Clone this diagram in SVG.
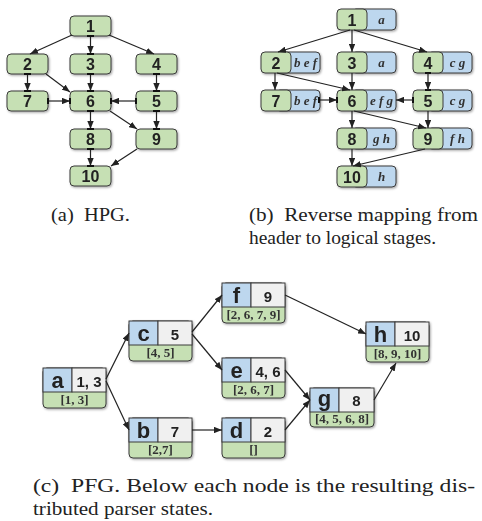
<svg xmlns="http://www.w3.org/2000/svg" width="482" height="521" viewBox="0 0 482 521">
<style>
.g{fill:#c6e0b4;stroke:#3a3a3a;stroke-width:1}
.b{fill:#bdd7ee;stroke:#3a3a3a;stroke-width:1}
.w{fill:#f0f0f0;stroke:#3a3a3a;stroke-width:1}
.num{font-family:"Liberation Sans",Arial,sans-serif;font-weight:bold;font-size:16px;fill:#222;text-anchor:middle}
.lab{font-family:"Liberation Serif","Times New Roman",serif;font-style:italic;font-weight:bold;font-size:13px;fill:#333;text-anchor:middle}
.let{font-family:"Liberation Sans",Arial,sans-serif;font-weight:bold;font-size:22px;fill:#222;text-anchor:middle}
.val{font-family:"Liberation Sans",Arial,sans-serif;font-weight:bold;font-size:15px;fill:#222;text-anchor:middle}
.st{font-family:"Liberation Serif","Times New Roman",serif;font-weight:bold;font-size:13px;fill:#333;text-anchor:middle}
.cap{font-family:"Liberation Serif","Times New Roman",serif;font-size:19px;fill:#222}
.e{fill:none;stroke:#222;stroke-width:1.2;marker-end:url(#ah)}
.t{stroke:#111;stroke-width:2}
</style>
<defs>
<marker id="ah" viewBox="0 0 10 8" refX="10" refY="4" markerWidth="8" markerHeight="6.4" markerUnits="userSpaceOnUse" orient="auto"><path d="M0,0 L10,4 L0,8 z" fill="#222"/></marker>
<filter id="sh" x="-10%" y="-10%" width="130%" height="140%"><feDropShadow dx="1" dy="1.2" stdDeviation="0.8" flood-color="#000" flood-opacity="0.35"/></filter>
</defs>

<!-- Panel (a) -->
<g id="a-nodes" filter="url(#sh)">
<g id="a1"><rect class="g" x="70" y="16" width="41" height="20" rx="4"/><text class="num" x="90.5" y="32">1</text></g>
<g id="a2"><rect class="g" x="7" y="54" width="41" height="20" rx="4"/><text class="num" x="27.5" y="70">2</text></g>
<g id="a3"><rect class="g" x="70" y="54" width="41" height="20" rx="4"/><text class="num" x="90.5" y="70">3</text></g>
<g id="a4"><rect class="g" x="136" y="54" width="41" height="20" rx="4"/><text class="num" x="156.5" y="70">4</text></g>
<g id="a7"><rect class="g" x="7" y="91" width="41" height="20" rx="4"/><text class="num" x="27.5" y="107">7</text></g>
<g id="a6"><rect class="g" x="70" y="91" width="41" height="20" rx="4"/><text class="num" x="90.5" y="107">6</text></g>
<g id="a5"><rect class="g" x="136" y="91" width="41" height="20" rx="4"/><text class="num" x="156.5" y="107">5</text></g>
<g id="a8"><rect class="g" x="70" y="129" width="41" height="20" rx="4"/><text class="num" x="90.5" y="145">8</text></g>
<g id="a9"><rect class="g" x="136" y="129" width="41" height="20" rx="4"/><text class="num" x="156.5" y="145">9</text></g>
<g id="a10"><rect class="g" x="70" y="166" width="41" height="20" rx="4"/><text class="num" x="90.5" y="182">10</text></g>
</g>

<!-- Panel (b) -->
<g id="b-nodes" filter="url(#sh)">
<g id="b1"><rect class="b" x="352" y="9" width="44" height="21" rx="4"/><rect class="g" x="337" y="9" width="30" height="21" rx="4"/><text class="num" x="352" y="25.5">1</text><text class="lab" x="381.5" y="24">a</text></g>
<g id="b2"><rect class="b" x="276" y="52" width="44" height="21" rx="4"/><rect class="g" x="261" y="52" width="30" height="21" rx="4"/><text class="num" x="276" y="68.5">2</text><text class="lab" x="305.5" y="67">b e f</text></g>
<g id="b3"><rect class="b" x="352" y="52" width="44" height="21" rx="4"/><rect class="g" x="337" y="52" width="30" height="21" rx="4"/><text class="num" x="352" y="68.5">3</text><text class="lab" x="381.5" y="67">a</text></g>
<g id="b4"><rect class="b" x="428" y="52" width="44" height="21" rx="4"/><rect class="g" x="413" y="52" width="30" height="21" rx="4"/><text class="num" x="428" y="68.5">4</text><text class="lab" x="457.5" y="67">c g</text></g>
<g id="b7"><rect class="b" x="276" y="90" width="44" height="21" rx="4"/><rect class="g" x="261" y="90" width="30" height="21" rx="4"/><text class="num" x="276" y="106.5">7</text><text class="lab" x="305.5" y="105">b e f</text></g>
<g id="b6"><rect class="b" x="352" y="90" width="44" height="21" rx="4"/><rect class="g" x="337" y="90" width="30" height="21" rx="4"/><text class="num" x="352" y="106.5">6</text><text class="lab" x="381.5" y="105">e f g</text></g>
<g id="b5"><rect class="b" x="428" y="90" width="44" height="21" rx="4"/><rect class="g" x="413" y="90" width="30" height="21" rx="4"/><text class="num" x="428" y="106.5">5</text><text class="lab" x="457.5" y="105">c g</text></g>
<g id="b8"><rect class="b" x="352" y="128" width="44" height="21" rx="4"/><rect class="g" x="337" y="128" width="30" height="21" rx="4"/><text class="num" x="352" y="144.5">8</text><text class="lab" x="381.5" y="143">g h</text></g>
<g id="b9"><rect class="b" x="428" y="128" width="44" height="21" rx="4"/><rect class="g" x="413" y="128" width="30" height="21" rx="4"/><text class="num" x="428" y="144.5">9</text><text class="lab" x="457.5" y="143">f h</text></g>
<g id="b10"><rect class="b" x="352" y="166" width="44" height="21" rx="4"/><rect class="g" x="337" y="166" width="30" height="21" rx="4"/><text class="num" x="352" y="182.5">10</text><text class="lab" x="381.5" y="181">h</text></g>
</g>

<!-- Panel (c) -->
<g id="c-nodes" filter="url(#sh)">
<g id="na"><rect class="g" x="43" y="368" width="63" height="40" rx="4"/><rect class="b" x="43" y="368" width="29" height="24"/><rect class="w" x="72" y="368" width="34" height="24"/><text class="let" x="57.5" y="387.5">a</text><text class="val" x="89" y="387">1, 3</text><text class="st" x="74.5" y="404">[1, 3]</text></g>
<g id="nc"><rect class="g" x="129" y="321" width="63" height="40" rx="4"/><rect class="b" x="129" y="321" width="29" height="24"/><rect class="w" x="158" y="321" width="34" height="24"/><text class="let" x="143.5" y="340.5">c</text><text class="val" x="175" y="340">5</text><text class="st" x="160.5" y="357">[4, 5]</text></g>
<g id="nb"><rect class="g" x="129" y="418" width="63" height="40" rx="4"/><rect class="b" x="129" y="418" width="29" height="24"/><rect class="w" x="158" y="418" width="34" height="24"/><text class="let" x="143.5" y="437.5">b</text><text class="val" x="175" y="437">7</text><text class="st" x="160.5" y="454">[2,7]</text></g>
<g id="nf"><rect class="g" x="222" y="283" width="63" height="40" rx="4"/><rect class="b" x="222" y="283" width="29" height="24"/><rect class="w" x="251" y="283" width="34" height="24"/><text class="let" x="236.5" y="302.5">f</text><text class="val" x="268" y="302">9</text><text class="st" x="253.5" y="319">[2, 6, 7, 9]</text></g>
<g id="ne"><rect class="g" x="222" y="358" width="63" height="40" rx="4"/><rect class="b" x="222" y="358" width="29" height="24"/><rect class="w" x="251" y="358" width="34" height="24"/><text class="let" x="236.5" y="377.5">e</text><text class="val" x="268" y="377">4, 6</text><text class="st" x="253.5" y="394">[2, 6, 7]</text></g>
<g id="nd"><rect class="g" x="222" y="418" width="63" height="40" rx="4"/><rect class="b" x="222" y="418" width="29" height="24"/><rect class="w" x="251" y="418" width="34" height="24"/><text class="let" x="236.5" y="437.5">d</text><text class="val" x="268" y="437">2</text><text class="st" x="253.5" y="454">[]</text></g>
<g id="ng"><rect class="g" x="310" y="388" width="64" height="39" rx="4"/><rect class="b" x="310" y="388" width="29" height="24"/><rect class="w" x="339" y="388" width="35" height="24"/><text class="let" x="324.5" y="405.5">g</text><text class="val" x="356.5" y="406">8</text><text class="st" x="342" y="423">[4, 5, 6, 8]</text></g>
<g id="nh"><rect class="g" x="366" y="322" width="63" height="40" rx="4"/><rect class="b" x="366" y="322" width="29" height="24"/><rect class="w" x="395" y="322" width="34" height="24"/><text class="let" x="380.5" y="341.5">h</text><text class="val" x="412" y="341">10</text><text class="st" x="397.5" y="358">[8, 9, 10]</text></g>
</g>

<g id="connectors">
<!-- (a) -->
<path class="e" d="M72,35 L30,54"/>
<path class="e" d="M90.5,36 L90.5,54"/>
<path class="e" d="M109,35 L154,54"/>
<path class="e" d="M27.5,74 L27.5,91"/>
<path class="e" d="M46,74 L70,92"/>
<path class="e" d="M90.5,74 L90.5,91"/>
<path class="e" d="M156.5,74 L156.5,91"/>
<path class="e" d="M48,101 L70,101"/>
<path class="e" d="M136,101 L111,101"/>
<path class="e" d="M156.5,111 L156.5,129"/>
<path class="e" d="M90.5,111 L90.5,129"/>
<path class="e" d="M110,111 L137,129"/>
<path class="e" d="M90.5,149 L90.5,166"/>
<path class="e" d="M137,149 L111,166"/>
<g id="ticks">
<path class="t" d="M87,36H94M87,54H94M87,74H94M87,91H94M87,111H94M87,129H94M87,149H94M87,166H94M24,74H31M24,91H31M153,74H160M153,91H160M153,111H160M153,129H160M48,98V104M70,98V104M136,98V104M111,98V104"/>
<path class="t" d="M425,73H431M425,90H431M413,97V103M337,97V103M319,97V103"/>
</g>
<!-- (b) -->
<path class="e" d="M350,30 L278,52"/>
<path class="e" d="M352,30 L352,52"/>
<path class="e" d="M354,30 L427,52"/>
<path class="e" d="M275,73 L275,90"/>
<path class="e" d="M277,73 L350,90"/>
<path class="e" d="M352,73 L352,90"/>
<path class="e" d="M428,73 L428,90"/>
<path class="e" d="M320,100 L337,100"/>
<path class="e" d="M413,100 L396,100"/>
<path class="e" d="M428,111 L428,128"/>
<path class="e" d="M352,111 L352,128"/>
<path class="e" d="M354,111 L426,128"/>
<path class="e" d="M352,149 L352,166"/>
<path class="e" d="M425,149 L353,166"/>
<!-- (c) -->
<path class="e" d="M106,379 L129,333"/>
<path class="e" d="M106,381 L129,430"/>
<path class="e" d="M192,332 L222,295"/>
<path class="e" d="M192,334 L222,370"/>
<path class="e" d="M192,430 L222,430"/>
<path class="e" d="M285,370 L310,400"/>
<path class="e" d="M285,430 L310,400"/>
<path class="e" d="M374,400 L396,363"/>
<path class="e" d="M285,295 L366,334"/>
</g>

<g id="captions">
<text class="cap" x="51" y="221" textLength="79" lengthAdjust="spacingAndGlyphs">(a)&#160; HPG.</text>
<text class="cap" x="249" y="221" textLength="229" lengthAdjust="spacingAndGlyphs">(b)&#160; Reverse mapping from</text>
<text class="cap" x="249" y="244" textLength="187" lengthAdjust="spacingAndGlyphs">header to logical stages.</text>
<text class="cap" x="33" y="492" textLength="442" lengthAdjust="spacingAndGlyphs">(c)&#160; PFG. Below each node is the resulting dis-</text>
<text class="cap" x="33" y="515" textLength="180" lengthAdjust="spacingAndGlyphs">tributed parser states.</text>
</g>
</svg>
